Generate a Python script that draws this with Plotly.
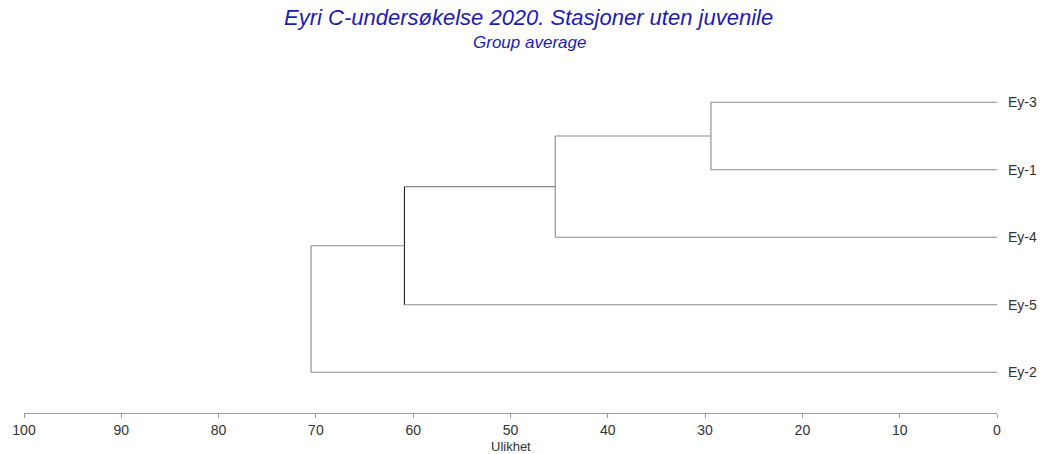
import plotly.graph_objects as go

# ---- data ----
leaf_labels = ["Ey-3", "Ey-1", "Ey-4", "Ey-5", "Ey-2"]          # top to bottom
merge_heights = [29.4, 45.4, 60.9, 70.5]                          # dissimilarity at each merge
x_ticks = [100, 90, 80, 70, 60, 50, 40, 30, 20, 10, 0]

title_text = "Eyri C-undersøkelse 2020. Stasjoner uten juvenile"
subtitle_text = "Group average"
x_title = "Ulikhet"

FONT = "Liberation Sans, Arial, sans-serif"

# ---- build dendrogram segments (sequential merges: cluster + next leaf) ----
n = len(leaf_labels)
leaf_y = [n - 1 - i for i in range(n)]  # top leaf highest

segments = []
line_gray = "#8a8a8a"
cur_y = leaf_y[0]
cur_x = 0.0
for k, h in enumerate(merge_heights):
    other_y = leaf_y[k + 1]
    segments.append(([cur_x, h], [cur_y, cur_y], line_gray))
    segments.append(([0.0, h], [other_y, other_y], line_gray))
    vcol = "#222222" if k == 2 else line_gray
    segments.append(([h, h], [cur_y, other_y], vcol))
    cur_y = (cur_y + other_y) / 2.0
    cur_x = h

fig = go.Figure()
for xs, ys, col in segments:
    fig.add_trace(go.Scatter(x=xs, y=ys, mode="lines",
                             line=dict(color=col, width=1.1),
                             hoverinfo="skip", showlegend=False))

for lab, y in zip(leaf_labels, leaf_y):
    fig.add_annotation(x=0, y=y, xref="x", yref="y", text=lab,
                       showarrow=False, xanchor="left", xshift=9,
                       font=dict(family=FONT, size=14, color="#333333"))

W, H = 1042, 454
ml, mr, mt, mb = 21, 45, 80, 41
pw, ph = W - ml - mr, H - mt - mb

fig.update_layout(
    width=W, height=H,
    margin=dict(l=ml, r=mr, t=mt, b=mb),
    paper_bgcolor="white", plot_bgcolor="white",
    showlegend=False,
    xaxis=dict(range=[100, 0], tickvals=x_ticks, ticktext=[str(v) for v in x_ticks],
               showgrid=False, zeroline=False, showline=True, linecolor="#9a9a9a", linewidth=1.2,
               ticks="outside", ticklen=4, tickcolor="#9a9a9a",
               tickfont=dict(family=FONT, size=14, color="#333333")),
    yaxis=dict(range=[-0.603, 4.33], visible=False, showgrid=False, zeroline=False),
)

def px_to_paper(px, py):
    return (px - ml) / pw, (H - mb - py) / ph

blue = "#1c1cb4"
tx, ty = px_to_paper(527, 18)
fig.add_annotation(x=tx, y=ty, xref="paper", yref="paper", text="<i>" + title_text + "</i>",
                   showarrow=False, xanchor="center", yanchor="middle",
                   font=dict(family=FONT, size=22, color=blue))
sx, sy = px_to_paper(528, 43)
fig.add_annotation(x=sx, y=sy, xref="paper", yref="paper", text="<i>" + subtitle_text + "</i>",
                   showarrow=False, xanchor="center", yanchor="middle",
                   font=dict(family=FONT, size=17, color=blue))
ux, uy = px_to_paper(509, 446)
fig.add_annotation(x=ux, y=uy, xref="paper", yref="paper", text=x_title, showarrow=False,
                   xanchor="center", yanchor="middle",
                   font=dict(family=FONT, size=13, color="#333333"))

fig.write_html("out.html", config={"displayModeBar": False},
               post_script="document.body.style.margin='0';document.body.style.overflow='hidden';")
